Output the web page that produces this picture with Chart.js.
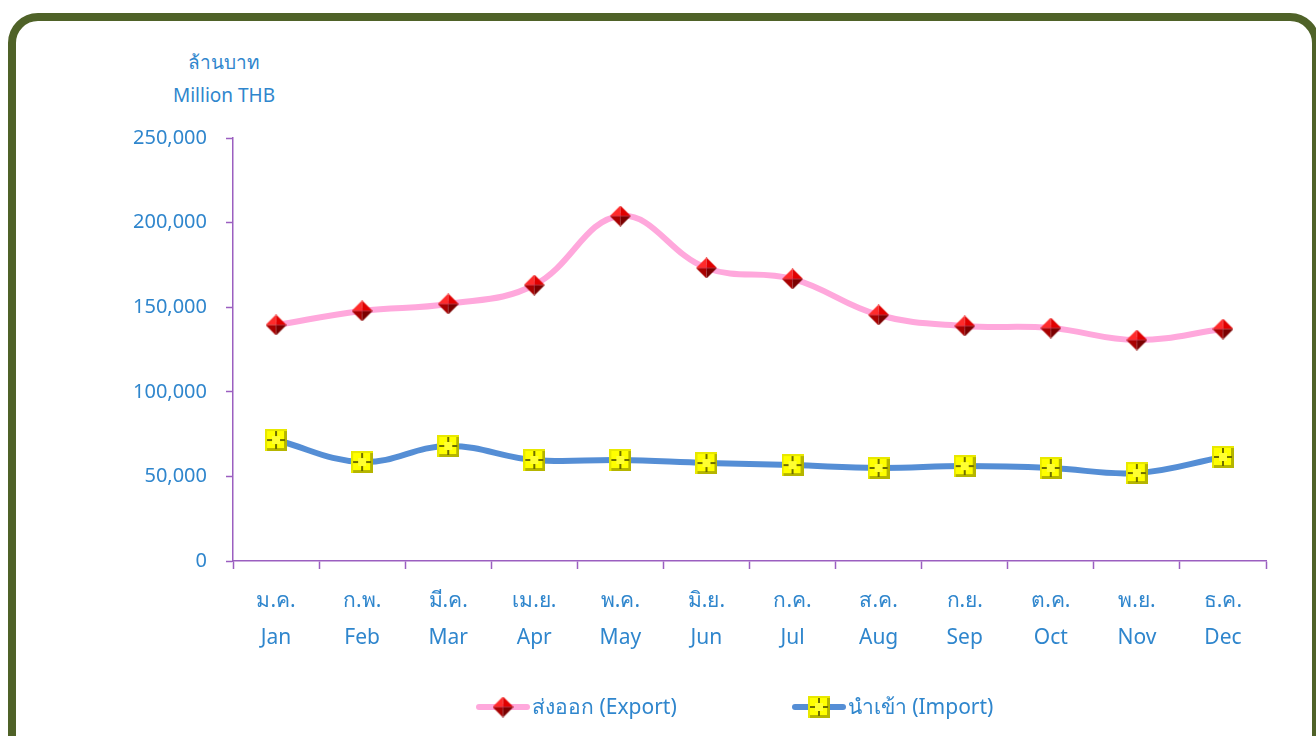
<!DOCTYPE html>
<html>
<head>
<meta charset="utf-8">
<script src="https://cdn.jsdelivr.net/npm/chart.js@4/dist/chart.umd.min.js"></script>
<style>
  html, body { margin: 0; padding: 0; background: #fff; overflow: hidden; }
  body { width: 1316px; height: 736px; position: relative; font-family: Tahoma, "Noto Sans", "DejaVu Sans", sans-serif; }
  #frame {
    position: absolute; left: 8px; top: 13px; width: 1312px; height: 800px;
    box-sizing: border-box; border: 8px solid #4F6228; border-radius: 30px;
  }
  #wrap { position: absolute; left: 0; top: 0; width: 1316px; height: 736px; }
  .ytitle { position: absolute; color: #2F86CD; font-size: 19px; width: 160px; text-align: center; left: 144px; }
  #legend { position: absolute; top: 690px; left: 475px; display: flex; gap: 114px; }
  .item { display: flex; align-items: center; color: #2F86CD; font-size: 21px; }
  .item img { margin-right: 1px; }
</style>
</head>
<body>
<div id="frame"></div>
<div class="ytitle" style="top:47px">ล้านบาท</div>
<div class="ytitle" style="top:82px">Million THB</div>
<div id="wrap"><canvas id="myChart"></canvas></div>
<div id="legend"></div>
<script>
// month labels, Thai + English
const monthsTh = ['ม.ค.', 'ก.พ.', 'มี.ค.', 'เม.ย.', 'พ.ค.', 'มิ.ย.', 'ก.ค.', 'ส.ค.', 'ก.ย.', 'ต.ค.', 'พ.ย.', 'ธ.ค.'];
const monthsEn = ['Jan', 'Feb', 'Mar', 'Apr', 'May', 'Jun', 'Jul', 'Aug', 'Sep', 'Oct', 'Nov', 'Dec'];

// values in million THB
const exportValues = [139500, 147800, 151900, 163100, 203900, 173200, 166700, 145400, 138900, 137700, 130600, 137100];
const importValues = [71500, 58500, 68000, 59700, 59700, 57900, 56700, 55000, 56100, 55000, 52000, 61500];

const seriesNames = ['ส่งออก (Export)', 'นำเข้า (Import)'];

const textBlue = '#2F86CD';
const axisPurple = '#9B5FC0';

// red diamond marker
function makeDiamond(size) {
    const c = document.createElement('canvas');
    c.width = size; c.height = size;
    const g = c.getContext('2d');
    const m = size / 2;
    const tri = (x1, y1, x2, y2, col) => {
        g.beginPath(); g.moveTo(m, m); g.lineTo(x1, y1); g.lineTo(x2, y2); g.closePath();
        g.fillStyle = col; g.fill();
    };
    tri(m, 0, 0, m, '#FF2A2A');
    tri(m, 0, size, m, '#E00000');
    tri(0, m, m, size, '#A80000');
    tri(size, m, m, size, '#7A0000');
    return c;
}

// yellow square marker with bevelled cross
function makeSquare(size) {
    const c = document.createElement('canvas');
    c.width = size; c.height = size;
    const g = c.getContext('2d');
    g.fillStyle = '#FFFF00';
    g.fillRect(0, 0, size, size);
    const m = size / 2;
    // darker bevel edges
    g.fillStyle = '#B5B500';
    g.fillRect(0, size - 3, size, 3);
    g.fillRect(size - 3, 0, 3, size);
    g.fillStyle = '#E8E800';
    g.fillRect(0, 0, size, 2);
    g.fillRect(0, 0, 2, size);
    // cross
    g.fillStyle = '#6E6E00';
    g.fillRect(m - 1, 2, 2, size - 4);
    g.fillRect(2, m - 1, size - 4, 2);
    g.fillStyle = '#FFFF30';
    g.fillRect(m - 4, m - 4, 8, 8);
    return c;
}

// legend swatch: line with marker in the middle
function makeSwatch(marker, color) {
    const c = document.createElement('canvas');
    c.width = 56; c.height = 24;
    const g = c.getContext('2d');
    g.strokeStyle = color; g.lineWidth = 6; g.lineCap = 'round';
    g.beginPath(); g.moveTo(4, 12); g.lineTo(52, 12); g.stroke();
    g.drawImage(marker, 28 - marker.width / 2, 12 - marker.height / 2);
    return c;
}

const diamond = makeDiamond(21);
const square = makeSquare(22);
const colors = ['#FFA8DC', '#558ED5'];

const legend = document.getElementById('legend');
[diamond, square].forEach(function (mk, i) {
    const item = document.createElement('div');
    item.className = 'item';
    const img = document.createElement('img');
    img.src = makeSwatch(mk, colors[i]).toDataURL();
    item.appendChild(img);
    item.appendChild(document.createTextNode(seriesNames[i]));
    legend.appendChild(item);
});

const labels = monthsTh.map((t, i) => [t, monthsEn[i]]);
const fontFamily = 'Tahoma, "Noto Sans", "DejaVu Sans", sans-serif';

var ctx = document.getElementById('myChart').getContext('2d');
var myChart = new Chart(ctx, {
    type: 'line',
    data: {
        labels: labels,
        datasets: [
            {
                label: seriesNames[0],
                data: exportValues,
                borderColor: colors[0],
                borderWidth: 6,
                tension: 0.4,
                pointStyle: diamond,
                pointRadius: 10
            },
            {
                label: seriesNames[1],
                data: importValues,
                borderColor: colors[1],
                borderWidth: 6,
                tension: 0.4,
                pointStyle: square,
                pointRadius: 10
            }
        ]
    },
    options: {
        responsive: true,
        maintainAspectRatio: false,
        animation: false,
        layout: { padding: { left: 0, top: 138, right: 50, bottom: 75 } },
        plugins: { legend: { display: false }, tooltip: { enabled: false } },
        scales: {
            x: {
                offset: true,
                grid: { offset: true, drawOnChartArea: false, tickLength: 8, color: axisPurple, tickWidth: 1.5 },
                border: { color: axisPurple, width: 1.5 },
                ticks: { color: textBlue, font: { family: fontFamily, size: 21, lineHeight: 1.75 }, padding: 14, maxRotation: 0 },
                afterFit: function (scale) { scale.height = 100; }
            },
            y: {
                min: 0,
                max: 250000,
                grid: { drawOnChartArea: false, tickLength: 7, color: axisPurple, tickWidth: 1.5 },
                border: { color: axisPurple, width: 1.5 },
                ticks: {
                    stepSize: 50000,
                    color: textBlue,
                    font: { family: fontFamily, size: 20 },
                    padding: 19,
                    callback: v => v.toLocaleString('en-US')
                },
                afterFit: function (scale) { scale.width = 233; }
            }
        }
    }
});
</script>
</body>
</html>
